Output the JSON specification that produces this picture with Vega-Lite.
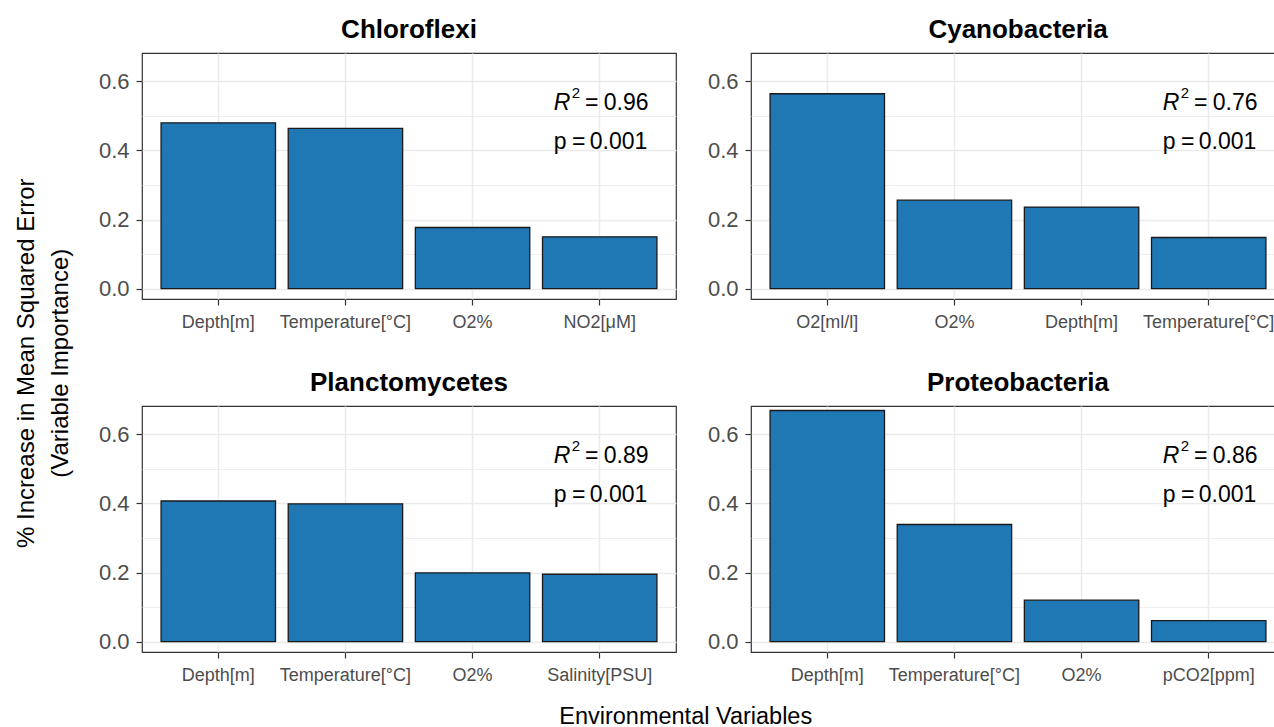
{
  "$schema": "https://vega.github.io/schema/vega-lite/v6.json",
  "background": "white",
  "padding": {"left": 14, "top": 16, "right": 0, "bottom": 0},
  "config": {
    "font": "Liberation Sans",
    "view": {"stroke": "#333333", "strokeWidth": 1.2},
    "axis": {"domain": false, "gridColor": "#EBEBEB", "gridWidth": 1.5, "tickColor": "#333333", "tickSize": 6, "tickWidth": 1.2, "labelColor": "#4D4D4D", "labelFont": "Liberation Sans"},
    "title": {"font": "Liberation Sans", "fontWeight": "normal", "color": "black"}
  },
  "title": {"text": ["% Increase in Mean Squared Error", "(Variable Importance)"], "orient": "left", "anchor": "middle", "fontSize": 24, "lineHeight": 34, "offset": 25, "dx": 9},
  "vconcat": [
    {
      "title": {"text": "Environmental Variables", "orient": "bottom", "anchor": "middle", "fontSize": 23.5, "offset": 20, "dx": -6},
      "data": {"values": [
        {"phylum": "Chloroflexi", "variable": "Depth[m]", "rank": 1, "importance": 0.480, "r2": 0.96, "p": 0.001},
        {"phylum": "Chloroflexi", "variable": "Temperature[°C]", "rank": 2, "importance": 0.464, "r2": 0.96, "p": 0.001},
        {"phylum": "Chloroflexi", "variable": "O2%", "rank": 3, "importance": 0.177, "r2": 0.96, "p": 0.001},
        {"phylum": "Chloroflexi", "variable": "NO2[μM]", "rank": 4, "importance": 0.150, "r2": 0.96, "p": 0.001},
        {"phylum": "Cyanobacteria", "variable": "O2[ml/l]", "rank": 1, "importance": 0.564, "r2": 0.76, "p": 0.001},
        {"phylum": "Cyanobacteria", "variable": "O2%", "rank": 2, "importance": 0.256, "r2": 0.76, "p": 0.001},
        {"phylum": "Cyanobacteria", "variable": "Depth[m]", "rank": 3, "importance": 0.236, "r2": 0.76, "p": 0.001},
        {"phylum": "Cyanobacteria", "variable": "Temperature[°C]", "rank": 4, "importance": 0.148, "r2": 0.76, "p": 0.001},
        {"phylum": "Planctomycetes", "variable": "Depth[m]", "rank": 1, "importance": 0.407, "r2": 0.89, "p": 0.001},
        {"phylum": "Planctomycetes", "variable": "Temperature[°C]", "rank": 2, "importance": 0.399, "r2": 0.89, "p": 0.001},
        {"phylum": "Planctomycetes", "variable": "O2%", "rank": 3, "importance": 0.199, "r2": 0.89, "p": 0.001},
        {"phylum": "Planctomycetes", "variable": "Salinity[PSU]", "rank": 4, "importance": 0.195, "r2": 0.89, "p": 0.001},
        {"phylum": "Proteobacteria", "variable": "Depth[m]", "rank": 1, "importance": 0.669, "r2": 0.86, "p": 0.001},
        {"phylum": "Proteobacteria", "variable": "Temperature[°C]", "rank": 2, "importance": 0.339, "r2": 0.86, "p": 0.001},
        {"phylum": "Proteobacteria", "variable": "O2%", "rank": 3, "importance": 0.120, "r2": 0.86, "p": 0.001},
        {"phylum": "Proteobacteria", "variable": "pCO2[ppm]", "rank": 4, "importance": 0.061, "r2": 0.86, "p": 0.001}
      ]},
      "columns": 2,
      "facet": {"field": "phylum", "type": "nominal",
        "header": {"title": null, "labelFontSize": 26, "labelFontWeight": "bold", "labelColor": "black", "labelFont": "Liberation Sans", "labelPadding": 10}},
      "spacing": {"column": 29, "row": 37},
      "resolve": {"scale": {"x": "independent"}, "axis": {"x": "independent", "y": "independent"}},
      "spec": {
        "width": 534,
        "height": 246,
        "resolve": {"axis": {"y": "independent"}},
        "encoding": {
          "x": {"field": "variable", "type": "nominal", "sort": {"field": "rank"},
            "scale": {"paddingInner": 0.1, "paddingOuter": 0.15},
            "axis": {"title": null, "labelAngle": 0, "labelFontSize": 18, "labelPadding": 8, "grid": true, "bandPosition": 0.5}}
        },
        "layer": [
          {
            "mark": {"type": "bar", "fill": "#1F77B4", "stroke": "#1A1A1A", "strokeWidth": 1.3},
            "encoding": {
              "y": {"field": "importance", "type": "quantitative",
                "scale": {"domain": [-0.03, 0.682], "nice": false, "zero": false},
                "axis": {"title": null, "values": [0, 0.2, 0.4, 0.6], "format": ".1f", "labelFontSize": 22, "labelPadding": 7, "grid": true, "orient": "left"}}
            }
          },
          {
            "mark": {"type": "text", "fontSize": 23, "fontStyle": "italic", "align": "left", "baseline": "middle", "dx": -46, "color": "black"},
            "encoding": {
              "y": {"datum": 0.536, "type": "quantitative",
                "axis": {"title": null, "orient": "right", "values": [0.1, 0.3, 0.5], "labels": false, "ticks": false, "domain": false, "grid": true, "gridWidth": 0.8, "gridColor": "#EBEBEB"}},
              "text": {"condition": {"test": "datum.rank == 4", "value": "R"}, "value": ""}
            }
          },
          {
            "mark": {"type": "text", "fontSize": 15, "align": "left", "baseline": "middle", "dx": -28, "dy": -10, "color": "black"},
            "encoding": {
              "y": {"datum": 0.536, "type": "quantitative", "axis": null},
              "text": {"condition": {"test": "datum.rank == 4", "value": "2"}, "value": ""}
            }
          },
          {
            "mark": {"type": "text", "fontSize": 23, "align": "center", "baseline": "middle", "dx": -8, "color": "black"},
            "encoding": {
              "y": {"datum": 0.536, "type": "quantitative", "axis": null},
              "text": {"condition": {"test": "datum.rank == 4", "value": "="}, "value": ""}
            }
          },
          {
            "mark": {"type": "text", "fontSize": 23, "align": "left", "baseline": "middle", "dx": 4, "color": "black"},
            "encoding": {
              "y": {"datum": 0.536, "type": "quantitative", "axis": null},
              "text": {"condition": {"test": "datum.rank == 4", "field": "r2", "format": ".2f"}, "value": ""}
            }
          },
          {
            "mark": {"type": "text", "fontSize": 23, "align": "left", "baseline": "middle", "dx": -46, "color": "black"},
            "encoding": {
              "y": {"datum": 0.424, "type": "quantitative", "axis": null},
              "text": {"condition": {"test": "datum.rank == 4", "value": "p"}, "value": ""}
            }
          },
          {
            "mark": {"type": "text", "fontSize": 23, "align": "center", "baseline": "middle", "dx": -21, "color": "black"},
            "encoding": {
              "y": {"datum": 0.424, "type": "quantitative", "axis": null},
              "text": {"condition": {"test": "datum.rank == 4", "value": "="}, "value": ""}
            }
          },
          {
            "mark": {"type": "text", "fontSize": 23, "align": "left", "baseline": "middle", "dx": -10, "color": "black"},
            "encoding": {
              "y": {"datum": 0.424, "type": "quantitative", "axis": null},
              "text": {"condition": {"test": "datum.rank == 4", "field": "p", "format": ".3f"}, "value": ""}
            }
          }
        ]
      }
    }
  ]
}
